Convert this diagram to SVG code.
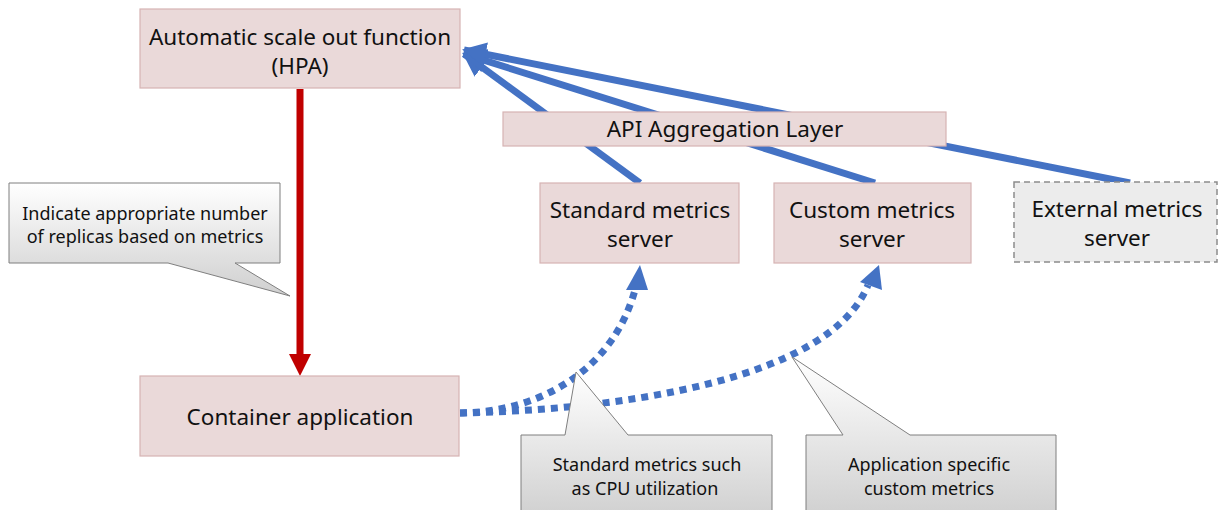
<svg xmlns="http://www.w3.org/2000/svg" width="1218" height="510" viewBox="0 0 1218 510">
<style>
.box{fill:#ead9d9;stroke:#d6b3b3;stroke-width:1.2}
.ext{fill:#ececec;stroke:#8c8c8c;stroke-width:1.5;stroke-dasharray:6,4}
.t{font-family:"Noto Sans","DejaVu Sans",sans-serif;font-size:22.5px;fill:#111;text-anchor:middle}
.c{font-family:"Noto Sans","DejaVu Sans",sans-serif;font-size:18px;fill:#111;text-anchor:middle}
.blue{stroke:#4472c4;stroke-width:7;fill:none}
.dot{stroke:#4472c4;stroke-width:7;fill:none;stroke-dasharray:7,6}
.call{fill:url(#g);stroke:#7f7f7f;stroke-width:1}
</style>
<defs>
<linearGradient id="g" x1="0" y1="0" x2="0" y2="1">
<stop offset="0" stop-color="#ffffff"/>
<stop offset="1" stop-color="#cfcfcf"/>
</linearGradient>
<marker id="ab" markerUnits="userSpaceOnUse" markerWidth="26" markerHeight="24" refX="22" refY="12" orient="auto">
<path d="M0,0 L24,12 L0,24 Z" fill="#4472c4"/>
</marker>
</defs>
<g id="connectors">
<line class="blue" x1="640" y1="183" x2="464" y2="54" marker-end="url(#ab)"/>
<line class="blue" x1="875" y1="183" x2="464" y2="54" marker-end="url(#ab)"/>
<line class="blue" x1="1130" y1="183" x2="464" y2="50" marker-end="url(#ab)"/>
<line x1="300" y1="89" x2="300" y2="356" stroke="#c00000" stroke-width="7"/>
<polygon points="289,354 311,354 300,376" fill="#c00000"/>
<path class="dot" d="M460,413 C540,412 615,370 636,286"/>
<polygon points="626,290 648,290 640,265" fill="#4472c4"/>
<path class="dot" d="M460,413 C620,410 830,380 868,285"/>
<polygon points="860,282 882,290 879,265" fill="#4472c4"/>
</g>
<g id="hpa"><rect class="box" x="140" y="9" width="320" height="79"/>
<text class="t" x="300" y="45">Automatic scale out function</text>
<text class="t" x="300" y="74">(HPA)</text></g>
<g id="api"><rect class="box" x="503" y="112" width="443" height="34"/>
<text class="t" x="725" y="137">API Aggregation Layer</text></g>
<g id="std"><rect class="box" x="540" y="183" width="199" height="80"/>
<text class="t" x="640" y="218">Standard metrics</text>
<text class="t" x="640" y="247">server</text></g>
<g id="custom"><rect class="box" x="774" y="183" width="197" height="80"/>
<text class="t" x="872" y="218">Custom metrics</text>
<text class="t" x="872" y="247">server</text></g>
<g id="external"><rect class="ext" x="1014" y="182" width="203" height="80"/>
<text class="t" x="1117" y="217">External metrics</text>
<text class="t" x="1117" y="246">server</text></g>
<g id="container"><rect class="box" x="140" y="376" width="319" height="80"/>
<text class="t" x="300" y="425">Container application</text></g>
<g id="callout1"><path class="call" d="M9,183 H280 V263 H235 L290,296 L168,263 H9 Z"/>
<text class="c" x="145" y="220">Indicate appropriate number</text>
<text class="c" x="145" y="243">of replicas based on metrics</text></g>
<g id="callout2"><path class="call" d="M521,435 H565 L576,372 L628,435 H772 V520 H521 Z"/>
<text class="c" x="647" y="471">Standard metrics such</text>
<text class="c" x="645" y="495">as CPU utilization</text></g>
<g id="callout3"><path class="call" d="M806,435 H843 L792,357 L910,435 H1056 V520 H806 Z"/>
<text class="c" x="929" y="471">Application specific</text>
<text class="c" x="929" y="495">custom metrics</text></g>
</svg>
